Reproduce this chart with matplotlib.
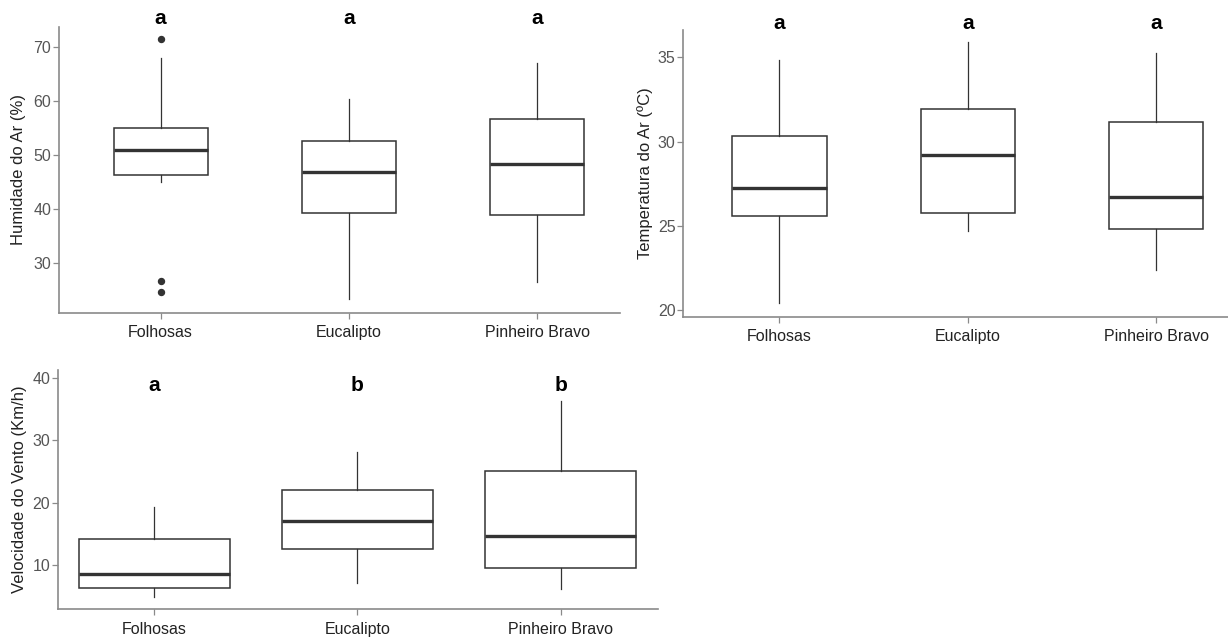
import matplotlib
matplotlib.use("Agg")
import matplotlib.pyplot as plt

plt.rcParams["font.family"] = ["Liberation Sans", "DejaVu Sans"]

categories = ["Folhosas", "Eucalipto", "Pinheiro Bravo"]

# Humidade do Ar (%)
hum_low = [45.0, 23.3, 26.5]
hum_q1 = [46.2, 39.15, 38.9]
hum_med = [50.87, 46.74, 48.33]
hum_q3 = [54.94, 52.6, 56.6]
hum_high = [67.85, 60.3, 66.9]
hum_fliers = [[71.48, 26.56, 24.63], [], []]
hum_letters = ["a", "a", "a"]

# Temperatura do Ar (ºC)
temp_low = [20.4, 24.67, 22.4]
temp_q1 = [25.59, 25.75, 24.79]
temp_med = [27.26, 29.22, 26.73]
temp_q3 = [30.3, 31.93, 31.18]
temp_high = [34.84, 35.9, 35.24]
temp_letters = ["a", "a", "a"]

# Velocidade do Vento (Km/h)
vento_low = [4.88, 7.12, 6.21]
vento_q1 = [6.32, 12.56, 9.62]
vento_med = [8.61, 17.08, 14.73]
vento_q3 = [14.16, 22.0, 25.08]
vento_high = [19.28, 28.07, 36.32]
vento_letters = ["a", "b", "b"]

W, H = 1228, 639
BOX_COL = "#333333"
AXIS_COL = "#8a8a8a"
TICK_TXT = "#555555"


def make_stats(low, q1, med, q3, high, fliers=None):
    stats = []
    for i in range(len(med)):
        stats.append({
            "whislo": low[i], "q1": q1[i], "med": med[i], "q3": q3[i],
            "whishi": high[i],
            "fliers": fliers[i] if fliers else [],
        })
    return stats


def panel(fig, px_box, stats, ylim, xlim, yticks, ylabel, letters, letter_y,
          box_width, ylab_x):
    x0, y0, x1, y1 = px_box
    ax = fig.add_axes([x0 / W, 1 - y1 / H, (x1 - x0) / W, (y1 - y0) / H])
    ax.bxp(stats, positions=[1, 2, 3], widths=box_width, showcaps=False,
           patch_artist=True,
           boxprops=dict(facecolor="white", edgecolor=BOX_COL, linewidth=1.1),
           medianprops=dict(color=BOX_COL, linewidth=2.4),
           whiskerprops=dict(color=BOX_COL, linewidth=0.9),
           flierprops=dict(marker="o", markerfacecolor=BOX_COL,
                           markeredgecolor=BOX_COL, markersize=4.3))
    ax.set_xlim(*xlim)
    ax.set_ylim(*ylim)
    ax.set_yticks(yticks)
    ax.set_xticks([1, 2, 3])
    ax.set_xticklabels(categories, fontsize=11.5, color="#222222")
    ax.tick_params(axis="y", labelsize=11.5, labelcolor=TICK_TXT,
                   color=AXIS_COL, length=4, width=0.9, pad=1.5)
    ax.tick_params(axis="x", color=AXIS_COL, length=4, width=0.9, pad=5)
    for side in ["top", "right"]:
        ax.spines[side].set_visible(False)
    for side in ["left", "bottom"]:
        ax.spines[side].set_color(AXIS_COL)
        ax.spines[side].set_linewidth(1.2)
    ax.set_ylabel(ylabel, fontsize=12, color="#222222")
    ax.yaxis.set_label_coords(ylab_x, 0.5)
    for i, lt in enumerate(letters):
        ax.text(i + 1, letter_y, lt, ha="center", va="center",
                fontsize=15, fontweight="heavy", color="black", clip_on=False)
    return ax


fig = plt.figure(figsize=(W / 100, H / 100), dpi=100)

panel(fig, (59, 27, 620, 312.7),
      make_stats(hum_low, hum_q1, hum_med, hum_q3, hum_high, hum_fliers),
      (20.74, 73.65), (0.46, 3.44), [30, 40, 50, 60, 70],
      "Humidade do Ar (%)", hum_letters, 75.3, 0.5, -0.0588)

panel(fig, (683.3, 30, 1228, 316.7),
      make_stats(temp_low, temp_q1, temp_med, temp_q3, temp_high),
      (19.6, 36.62), (0.49, 3.38), [20, 25, 30, 35],
      "Temperatura do Ar (ºC)", temp_letters, 37.0, 0.5, -0.055)

panel(fig, (57.7, 370, 658, 609.3),
      make_stats(vento_low, vento_q1, vento_med, vento_q3, vento_high),
      (2.96, 41.23), (0.524, 3.48), [10, 20, 30, 40],
      "Velocidade do Vento (Km/h)", vento_letters, 38.7, 0.74, -0.0516)

fig.savefig("out.png", dpi=100, facecolor="white")
